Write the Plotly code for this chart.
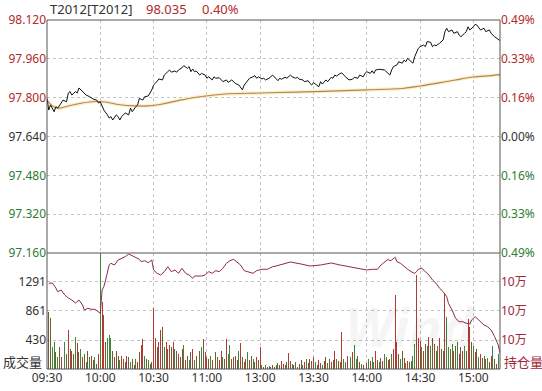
import plotly.graph_objects as go

# ---------------- data ----------------
symbol = "T2012[T2012]"
last_price = 98.035
prev_close = 97.640

time_labels = ["09:30", "10:00", "10:30", "11:00", "13:00", "13:30", "14:00", "14:30", "15:00"]
time_pos = [0, 30, 60, 90, 120, 150, 180, 210, 240]
n_minutes = 255

price_ticks = [97.160, 97.320, 97.480, 97.640, 97.800, 97.960, 98.120]

price_min = [0, 1, 2, 4, 5, 6, 8, 9, 11, 12, 13, 14, 16, 17, 18, 20, 21, 22, 24, 26, 28, 29, 30, 31, 32, 34, 35, 36, 37, 39,
             40, 41, 42, 44, 46, 47, 48, 50, 51, 52, 54, 55, 57, 59, 60, 61, 63,
             65, 66, 68, 69, 70, 72, 73, 74, 76, 77, 79, 80, 81, 82, 83, 84, 86, 87, 89, 90, 91, 93, 94, 95, 97, 98, 99,
             101, 102, 104, 105, 106, 108, 109, 110, 111, 113, 114, 116, 117, 118, 119, 121, 122, 123, 125,
             127, 128, 130, 131, 132, 134, 135, 137, 138, 140, 141, 142, 144, 145, 147, 148, 149, 150, 152, 153, 154, 155,
             157, 158, 160, 161, 162, 163, 165, 166, 168, 169, 170, 172, 173, 175, 176, 178, 179, 180, 182, 183, 184, 185, 187,
             190, 191, 193, 194, 195, 197, 198, 200, 201, 202, 203, 204, 206, 207, 208, 209, 210, 212, 213, 214, 216, 217,
             218, 219, 221, 222, 223, 224, 225, 226, 228, 229, 231, 232, 233, 235, 236, 237, 238, 240, 241, 242, 243, 244,
             246, 247, 249, 250, 252, 253, 254, 255]
price_val = [97.797, 97.749, 97.770, 97.742, 97.763, 97.757, 97.778, 97.790, 97.783, 97.819, 97.825, 97.811, 97.825, 97.819,
             97.840, 97.825, 97.819, 97.811, 97.804, 97.794, 97.790, 97.778, 97.783, 97.763, 97.749, 97.729, 97.716, 97.722,
             97.708, 97.729, 97.722, 97.708, 97.722, 97.737, 97.729, 97.757, 97.742, 97.763, 97.770, 97.797, 97.790, 97.804,
             97.807, 97.832, 97.852, 97.859, 97.877,
             97.873, 97.893, 97.907, 97.914, 97.905, 97.910, 97.905, 97.914, 97.923, 97.932, 97.921, 97.928, 97.907, 97.918,
             97.907, 97.910, 97.893, 97.900, 97.893, 97.880, 97.886, 97.873, 97.886, 97.880, 97.882, 97.873, 97.866,
             97.873, 97.863, 97.873, 97.866, 97.859, 97.852, 97.841, 97.832, 97.852, 97.873, 97.880, 97.886, 97.891, 97.880,
             97.886, 97.877, 97.880, 97.873, 97.880,
             97.893, 97.886, 97.870, 97.880, 97.876, 97.884, 97.880, 97.893, 97.886, 97.880, 97.884, 97.876, 97.873, 97.866,
             97.870, 97.859, 97.852, 97.862, 97.852, 97.845, 97.866, 97.856,
             97.873, 97.866, 97.884, 97.880, 97.893, 97.889, 97.900, 97.902, 97.886, 97.880, 97.873, 97.876, 97.884, 97.880,
             97.893, 97.886, 97.900, 97.907, 97.900, 97.911, 97.900, 97.914, 97.917,
             97.914, 97.907, 97.893, 97.914, 97.928, 97.935, 97.948, 97.942, 97.955, 97.948, 97.962, 97.955, 97.942, 97.969,
             97.989, 98.003, 98.010, 98.017, 98.010, 98.031, 98.028, 98.010,
             98.017, 98.014, 98.024, 98.031, 98.038, 98.072, 98.086, 98.072, 98.079, 98.065, 98.072, 98.058, 98.051, 98.065,
             98.072, 98.092, 98.079, 98.092, 98.102, 98.099, 98.088, 98.079,
             98.086, 98.072, 98.079, 98.065, 98.051, 98.045, 98.038, 98.035]

avg_min = [0, 3, 6, 12, 20, 27, 33, 40, 50, 57, 65, 75, 85, 100, 120, 140, 160, 180, 200, 210, 220, 230, 240, 250, 255]
avg_val = [97.790, 97.766, 97.757, 97.766, 97.778, 97.784, 97.782, 97.772, 97.766, 97.766, 97.774, 97.790, 97.803,
           97.815, 97.819, 97.823, 97.827, 97.832, 97.838, 97.848, 97.860, 97.873, 97.885, 97.891, 97.895]

volume = [
    # 09:30 - 10:00
    1530, 840, 750, 330, 400, 250, 180, 330, 180, 300, 400, 220, 575, 300, 270, 220, 470, 380, 250, 300,
    180, 220, 110, 270, 180, 200, 130, 180, 80, 220,
    # 10:00 - 10:30
    1750, 990, 800, 400, 460, 500, 460, 270, 180, 270, 200, 130, 200, 150, 110, 200, 180, 110, 150, 60,
    150, 110, 250, 350, 440, 200, 150, 130, 80, 110,
    # 10:30 - 11:30
    900, 460, 330, 400, 575, 620, 330, 400, 300, 350, 330, 400, 300, 270, 220, 180, 300, 350, 130, 200,
    130, 250, 300, 130, 200, 150, 270, 330, 440, 250, 180, 150, 200, 130, 300, 250, 180, 130, 270, 180,
    150, 440, 220, 350, 150, 180, 200, 130, 270, 380, 180, 110, 150, 250, 130, 200, 150, 110, 180, 130,
    # 13:00 - 14:00
    330, 60, 30, 60, 30, 45, 30, 60, 30, 60, 90, 60, 120, 80, 60, 100, 240, 120, 80, 60,
    100, 30, 80, 130, 60, 100, 150, 90, 150, 120, 180, 100, 60, 130, 90, 60, 120, 180, 90, 150,
    100, 130, 260, 150, 120, 100, 550, 150, 100, 200, 130, 180, 250, 350, 150, 200, 100, 70, 60, 100,
    # 14:00 - 15:15
    90, 150, 120, 180, 100, 270, 130, 100, 170, 120, 220, 180, 130, 150, 220, 300, 1100, 400, 220, 150,
    260, 170, 90, 120, 100, 120, 200, 370, 1400, 460, 420, 320, 270, 370, 340, 470, 340, 460, 370, 270,
    340, 460, 300, 270, 1130, 770, 320, 300, 370, 270, 340, 400, 220, 320, 270, 340, 270, 740, 620, 400,
    340, 250, 300, 180, 220, 170, 200, 150, 170, 100, 200, 340, 150, 80, 220, 500,
]
# u = up (red), g = down (green), f = flat
vol_dir = ("uffggfgfuu" "gfufufgufg" "ufgfgufgfu" "guuugggfuf" "fguffufgfu" "gufuugfgff"
           "uufuufgufu" "fugfufuguf" "gfugfufgfu" "ufgugffuug" "fuggufufgu" "ffugufgfuf"
           "ugfgffgfuf" "gfuugfufgf" "fgufgugfuf" "ugfufgufgf" "ufugufuggu" "fguggfugfg"
           "ugugguugfu" "gfufguuufg" "fuguffgguu" "ugufgugfuf" "guffuggfgu" "fgufugfuuf"
           "gufgufgugf" "ugfugg")

vol_max = 1721
vol_ticks = [430, 861, 1291]

oi_min = [1, 3, 5, 6, 8, 10, 12, 14, 16, 18, 20, 21, 23, 25, 27, 29, 30, 31, 32, 33, 35, 36, 38, 40, 42, 44, 46, 47,
          50, 52, 53, 55, 57, 59, 60, 62, 64, 66, 68, 70, 72, 74, 76, 78, 80, 82, 83, 87, 89, 91, 93, 95, 97, 99, 101,
          103, 105, 107, 109, 111, 114, 116, 118, 121, 124, 127, 129, 131, 137, 143, 148, 154, 160, 165, 171, 177,
          180, 183, 186, 188, 190, 192, 193, 194, 196, 197, 199, 201, 203, 205, 207, 208, 209, 211, 213, 215, 217,
          219, 221, 223, 225, 226, 228, 230, 232, 234, 236, 238, 239, 241, 242, 244, 246, 248, 250, 252, 254, 255]
oi_val = [103091, 103100, 102950, 102839, 102890, 102740, 102650, 102590, 102500, 102590, 102440, 102290, 102341,
          102311, 102311, 102239, 102190, 102890, 102990, 103190, 103640, 103691, 103640, 103790, 103841, 103889,
          103970, 103940, 103871, 103811, 103739, 103769, 103709, 103790, 103490, 103391, 103340, 103439, 103589,
          103439, 103490, 103391, 103541, 103391, 103340, 103241, 103310, 103310, 103340, 103439, 103391, 103469,
          103439, 103541, 103691, 103769, 103811, 103739, 103640, 103469, 103409, 103391, 103469, 103511, 103511,
          103589, 103610, 103640, 103730, 103670, 103610, 103640, 103700, 103640, 103580, 103541,
          103490, 103511, 103511, 103640, 103739, 103811, 103769, 103790, 103871, 103739, 103691, 103589, 103511,
          103439, 103391, 103439, 103511, 103541, 103439, 103340, 103190, 103091, 102941, 102839, 102689, 102491,
          102290, 102041, 101939, 101939, 101891, 101870, 101990, 102089, 102041, 101939, 101840, 101789, 101690,
          101489, 101240, 100991]
oi_range = [100520, 104000]

# ---------------- styling ----------------
W, H = 542, 391
L, R, T, B = 47, 42, 20, 22
pw, ph = W - L - R, H - T - B
split_px = 253
vsplit = (H - B - split_px) / ph

RED = "#B02A2A"
GREEN = "#2F7D32"
GRAY = "#333333"
GRID = "#C4C4C4"
FONT = "Noto Sans, Noto Sans CJK SC, sans-serif"


def px_x(x):
    return (x - L) / pw


def px_y(y):
    return 1 - (y - T) / ph


def pct_label(v):
    return "%.2f%%" % (abs(v - prev_close) / prev_close * 100)


def tick_color(v):
    if v > prev_close + 1e-9:
        return RED
    if v < prev_close - 1e-9:
        return GREEN
    return GRAY


left_text = ['<span style="color:%s">%.3f</span>' % (tick_color(v), v) for v in price_ticks]
right_text = ['<span style="color:%s">%s</span>' % (tick_color(v), pct_label(v)) for v in price_ticks]

dir_colors = {"u": "#B23A30", "g": "#3E863A", "f": "#6E5E34"}
bar_colors = [dir_colors[c] for c in vol_dir[:len(volume)]]

oi_tick_vals = [oi_range[0] + (oi_range[1] - oi_range[0]) * v / vol_max for v in vol_ticks]

fig = go.Figure()

fig.add_trace(go.Bar(x=list(range(len(volume))), y=volume, marker=dict(color=bar_colors, line=dict(width=0)),
                     width=0.55, xaxis="x2", yaxis="y2", hoverinfo="skip", showlegend=False))
fig.add_trace(go.Scatter(x=oi_min, y=oi_val, mode="lines", line=dict(color="#8E2A52", width=1),
                         xaxis="x2", yaxis="y4", hoverinfo="skip", showlegend=False))
fig.add_trace(go.Scatter(x=avg_min, y=avg_val, mode="lines", line=dict(color="rgba(255,228,180,0.7)", width=3.5),
                         line_shape="spline", xaxis="x", yaxis="y", hoverinfo="skip", showlegend=False))
fig.add_trace(go.Scatter(x=avg_min, y=avg_val, mode="lines", line=dict(color="#B08850", width=1.1),
                         line_shape="spline", xaxis="x", yaxis="y", hoverinfo="skip", showlegend=False))
fig.add_trace(go.Scatter(x=price_min, y=price_val, mode="lines", line=dict(color="#111111", width=1),
                         xaxis="x", yaxis="y", hoverinfo="skip", showlegend=False))
fig.add_trace(go.Scatter(x=[0], y=[prev_close], mode="markers", marker=dict(opacity=0),
                         xaxis="x", yaxis="y3", hoverinfo="skip", showlegend=False))

axis_common = dict(showgrid=True, gridcolor=GRID, griddash="dot", gridwidth=1, zeroline=False,
                   showline=False, ticks="", fixedrange=True, automargin=False)

fig.update_layout(
    width=W, height=H,
    margin=dict(l=L, r=R, t=T, b=B, pad=0, autoexpand=False),
    paper_bgcolor="white", plot_bgcolor="white",
    font=dict(family=FONT, size=12, color=GRAY),
    bargap=0,
    xaxis=dict(domain=[0, 1], anchor="y", range=[0, n_minutes], tickvals=time_pos,
               showticklabels=False, **axis_common),
    xaxis2=dict(domain=[0, 1], anchor="y2", matches="x", range=[0, n_minutes], tickvals=time_pos,
                ticktext=time_labels, tickfont=dict(size=12, color=GRAY), **axis_common),
    yaxis=dict(domain=[vsplit, 1], anchor="x", range=[price_ticks[0] - 1e-6, price_ticks[-1] + 1e-6],
               tickvals=price_ticks, ticktext=left_text, side="left", tickfont=dict(size=12), **axis_common),
    yaxis3=dict(overlaying="y", anchor="x", side="right", range=[price_ticks[0] - 1e-6, price_ticks[-1] + 1e-6],
                tickvals=price_ticks, ticktext=right_text, tickfont=dict(size=12), automargin=False,
                showgrid=False, zeroline=False, showline=False, ticks=""),
    yaxis2=dict(domain=[0, vsplit], anchor="x2", range=[0, vol_max], tickvals=vol_ticks,
                ticktext=[str(v) for v in vol_ticks], tickfont=dict(size=12, color=GRAY), **axis_common),
    yaxis4=dict(overlaying="y2", anchor="x2", side="right", range=oi_range, tickvals=oi_tick_vals,
                ticktext=["10万"] * len(oi_tick_vals), tickfont=dict(size=12, color="#A0283A"), automargin=False,
                showgrid=False, zeroline=False, showline=False, ticks=""),
)

frame = dict(color="#555555", width=1)
fig.add_shape(type="rect", xref="paper", yref="paper", x0=0, x1=1, y0=0, y1=1, line=frame, layer="above")
fig.add_shape(type="line", xref="paper", yref="paper", x0=0, x1=1, y0=vsplit, y1=vsplit, line=frame, layer="above")

change_pct = (last_price - prev_close) / prev_close * 100
fig.add_annotation(text=symbol, xref="paper", yref="paper", x=px_x(48), y=px_y(9), xanchor="left",
                   yanchor="middle", showarrow=False, font=dict(size=13, color=GRAY))
fig.add_annotation(text="%.3f" % last_price, xref="paper", yref="paper", x=px_x(144), y=px_y(9), xanchor="left",
                   yanchor="middle", showarrow=False, font=dict(size=13, color=RED))
fig.add_annotation(text="%.2f%%" % change_pct, xref="paper", yref="paper", x=px_x(200), y=px_y(9),
                   xanchor="left", yanchor="middle", showarrow=False, font=dict(size=13, color=RED))
fig.add_annotation(text="成交量", xref="paper", yref="paper", x=px_x(44), y=px_y(362), xanchor="right",
                   yanchor="middle", showarrow=False, font=dict(size=13, color=GRAY))
fig.add_annotation(text="持仓量", xref="paper", yref="paper", x=px_x(502), y=px_y(362), xanchor="left",
                   yanchor="middle", showarrow=False, font=dict(size=13, color="#A0283A"))
fig.add_annotation(text="<b><i>Wind</i></b>", xref="paper", yref="paper", x=px_x(410), y=px_y(326),
                   xanchor="center", yanchor="middle", showarrow=False,
                   font=dict(size=54, color="rgba(0,0,0,0.04)"))

fig.write_html("out.html", config={"displayModeBar": False, "staticPlot": True},
               post_script="document.body.style.margin='0px';document.body.style.overflow='hidden';")
